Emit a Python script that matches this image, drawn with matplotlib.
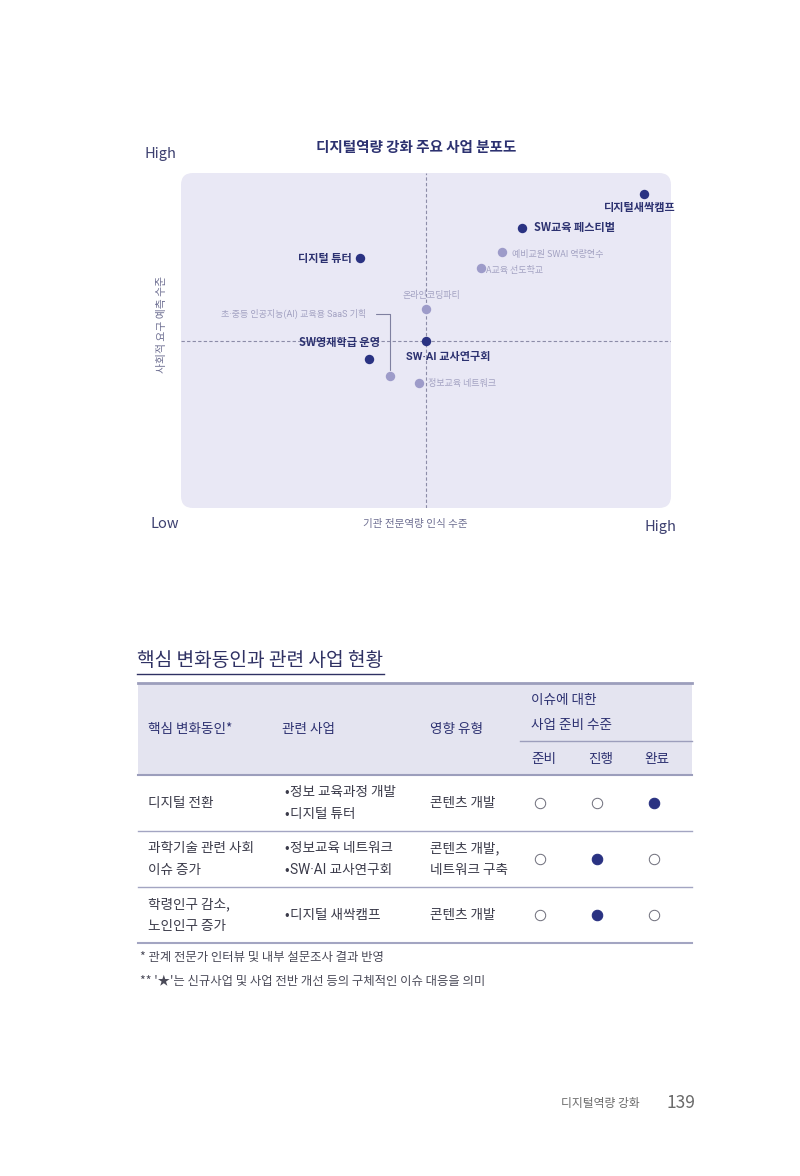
import matplotlib
matplotlib.use("Agg")
import matplotlib.pyplot as plt
from matplotlib.patches import FancyBboxPatch, Rectangle

plt.rcParams['font.family'] = ['Noto Sans CJK KR', 'DejaVu Sans']
DOT_FAMILY = ['Roboto', 'Noto Sans CJK KR', 'DejaVu Sans']

# ---------------- data ----------------
chart_title = "디지털역량 강화 주요 사업 분포도"
x_axis_label = "기관 전문역량 인식 수준"
y_axis_label = "사회적 요구 예측 수준"

project_names = ["디지털새싹캠프", "SW교육 페스티벌", "디지털 튜터", "예비교원 SWAI 역량연수",
                 "A교육 선도학교", "온라인코딩파티", "초·중등 인공지능(AI) 교육용 SaaS 기획",
                 "SW영재학급 운영", "SW·AI 교사연구회", "정보교육 네트워크"]
expertise = [9.45, 6.96, 3.65, 6.55, 6.12, 5.0, 4.27, 3.84, 5.0, 4.86]
social_need = [9.37, 8.36, 7.46, 7.64, 7.16, 5.94, 3.94, 4.45, 5.0, 3.73]
is_key = [True, True, True, False, False, False, False, True, True, False]

table_title = "핵심 변화동인과 관련 사업 현황"
drivers = [["디지털 전환"], ["과학기술 관련 사회", "이슈 증가"], ["학령인구 감소,", "노인인구 증가"]]
related = [["정보 교육과정 개발", "디지털 튜터"], ["정보교육 네트워크", "SW·AI 교사연구회"], ["디지털 새싹캠프"]]
impact = [["콘텐츠 개발"], ["콘텐츠 개발,", "네트워크 구축"], ["콘텐츠 개발"]]
levels = ["준비", "진행", "완료"]
readiness = ["완료", "진행", "진행"]
footnotes = ["* 관계 전문가 인터뷰 및 내부 설문조사 결과 반영",
             "** '★'는 신규사업 및 사업 전반 개선 등의 구체적인 이슈 대응을 의미"]
footer_text = "디지털역량 강화"
page_no = "139"


def fam(text):
    return {'family': DOT_FAMILY} if '·' in text else {}


# ---------------- style ----------------
NAVY = '#2a3282'
NAVY_TXT = '#2c3170'
LIGHT_DOT = '#9d9bc9'
LIGHT_TXT = '#a3a2c2'
BG = '#e9e8f5'
DASH = '#8c8ca8'

fig = plt.figure(figsize=(8, 11.76), dpi=100)
bg = fig.add_axes([0, 0, 1, 1])
bg.set_xlim(0, 800)
bg.set_ylim(1176, 0)
bg.axis('off')

# rounded background of the scatter
bg.add_patch(FancyBboxPatch((181, 173), 490, 335,
                            boxstyle='round,pad=0,rounding_size=12',
                            fc=BG, ec='none', zorder=0))

# scatter axes
ax = fig.add_axes([181 / 800, (1176 - 508) / 1176, 490 / 800, 335 / 1176])
ax.set_xlim(0, 10)
ax.set_ylim(0, 10)
ax.axis('off')
ax.patch.set_alpha(0)
ax.axvline(5.0, color=DASH, lw=0.8, ls=(0, (3, 2)), zorder=1)
ax.axhline(5.0, color=DASH, lw=0.8, ls=(0, (3, 2)), zorder=1)

# label layout: (dx pt, dy pt, ha)
label_layout = {
    "디지털새싹캠프": (23, -10, 'right'),
    "SW교육 페스티벌": (8.5, 0, 'left'),
    "디지털 튜터": (-5.5, 0, 'right'),
    "예비교원 SWAI 역량연수": (7, -2, 'left'),
    "A교육 선도학교": (4, -2, 'left'),
    "온라인코딩파티": (4, 10, 'center'),
    "초·중등 인공지능(AI) 교육용 SaaS 기획": (-17, 45, 'right'),
    "SW영재학급 운영": (8, 11.5, 'right'),
    "SW·AI 교사연구회": (-14.5, -12, 'left'),
    "정보교육 네트워크": (6.5, 0, 'left'),
}

for name, xv, yv, key in zip(project_names, expertise, social_need, is_key):
    ax.scatter([xv], [yv], s=46, color=NAVY if key else LIGHT_DOT, zorder=3, linewidths=0)
    dx, dy, ha = label_layout[name]
    kw = dict(fontsize=8, fontweight='bold', color=NAVY_TXT) if key else \
        dict(fontsize=6.5, color=LIGHT_TXT)
    kw.update(fam(name))
    if name.startswith("초·중등"):
        ax.annotate(name, xy=(xv, yv), xytext=(dx, dy), textcoords='offset points',
                    ha=ha, va='center', zorder=4,
                    arrowprops=dict(arrowstyle='-', color='#7f80a0', lw=0.8,
                                    connectionstyle='angle,angleA=0,angleB=90,rad=0',
                                    shrinkA=5, shrinkB=4),
                    **kw)
    else:
        ax.annotate(name, xy=(xv, yv), xytext=(dx, dy), textcoords='offset points',
                    ha=ha, va='center', zorder=4, **kw)

# chart title and axis texts
bg.text(416, 147, chart_title, ha='center', va='center', fontsize=10.5,
        fontweight='bold', color=NAVY_TXT)
bg.text(144, 154, "High", ha='left', va='center', fontsize=10.5, color='#3d4070')
bg.text(151, 524, "Low", ha='left', va='center', fontsize=10.5, color='#3d4070')
bg.text(676, 527, "High", ha='right', va='center', fontsize=10.5, color='#3d4070')
bg.text(415, 524, x_axis_label, ha='center', va='center', fontsize=7.6, color='#6e6f92')
bg.text(162, 324, y_axis_label, ha='center', va='center', fontsize=7.8, color='#6e6f92',
        rotation=90)

# ---------------- table ----------------
TBL_L, TBL_R = 138, 692
LINE = '#a3a5c2'
HDR_TXT = '#2e3272'
BODY_TXT = '#3b3b4a'

bg.text(137, 661, table_title, ha='left', va='center', fontsize=13.8, color='#2f3163')
bg.plot([137, 384], [674, 674], color='#2f3163', lw=1.0)

bg.add_patch(Rectangle((TBL_L, 683), TBL_R - TBL_L, 92, fc='#e4e4f0', ec='none', zorder=0))
bg.plot([TBL_L, TBL_R], [683, 683], color='#9c9ebc', lw=2.0)
bg.plot([TBL_L, TBL_R], [775, 775], color='#9c9ebc', lw=1.5)
bg.plot([520, TBL_R], [741, 741], color='#9c9ebc', lw=1.0)

hfs = 9.8
bg.text(148, 729, "핵심 변화동인*", ha='left', va='center', fontsize=hfs, color=HDR_TXT)
bg.text(282, 729, "관련 사업", ha='left', va='center', fontsize=hfs, color=HDR_TXT)
bg.text(430, 729, "영향 유형", ha='left', va='center', fontsize=hfs, color=HDR_TXT)
bg.text(531, 700, "이슈에 대한", ha='left', va='center', fontsize=hfs, color=HDR_TXT)
bg.text(531, 725, "사업 준비 수준", ha='left', va='center', fontsize=hfs, color=HDR_TXT)
level_x = [544, 601, 657]
circle_x = [540, 597, 654]
for lv, lx in zip(levels, level_x):
    bg.text(lx, 759, lv, ha='center', va='center', fontsize=hfs, color=HDR_TXT)

row_top = 775
row_h = 56
bfs = 9.8
for i in range(len(drivers)):
    yc = row_top + row_h * i + row_h / 2

    def lines_y(n):
        return [yc] if n == 1 else [yc - 11, yc + 11]
    for t, yy in zip(drivers[i], lines_y(len(drivers[i]))):
        bg.text(148, yy, t, ha='left', va='center', fontsize=bfs, color=BODY_TXT)
    for t, yy in zip(related[i], lines_y(len(related[i]))):
        bg.text(284, yy, "•", ha='left', va='center', fontsize=bfs, color=BODY_TXT)
        bg.text(290, yy, t, ha='left', va='center', fontsize=bfs, color=BODY_TXT,
                **fam(t))
    for t, yy in zip(impact[i], lines_y(len(impact[i]))):
        bg.text(430, yy, t, ha='left', va='center', fontsize=bfs, color=BODY_TXT)
    for lv, cx in zip(levels, circle_x):
        if lv == readiness[i]:
            bg.plot([cx], [yc], marker='o', ms=7.5, mfc=NAVY, mec=NAVY, mew=0.8)
        else:
            bg.plot([cx], [yc], marker='o', ms=7.5, mfc='white', mec='#6d6d7a', mew=0.7)
    bg.plot([TBL_L, TBL_R], [row_top + row_h * (i + 1)] * 2, color=LINE,
            lw=1.5 if i == len(drivers) - 1 else 1.0)

bg.text(140, 958, footnotes[0], ha='left', va='center', fontsize=8.9, color='#4a4a58')
bg.text(140, 981, footnotes[1], ha='left', va='center', fontsize=8.9, color='#4a4a58')

bg.text(640, 1104, footer_text, ha='right', va='center', fontsize=8.5, color='#6a6a6a')
bg.text(695, 1103, page_no, ha='right', va='center', fontsize=12.5, color='#6a6a6a',
        fontweight='light')

fig.savefig("out.png", dpi=100)
